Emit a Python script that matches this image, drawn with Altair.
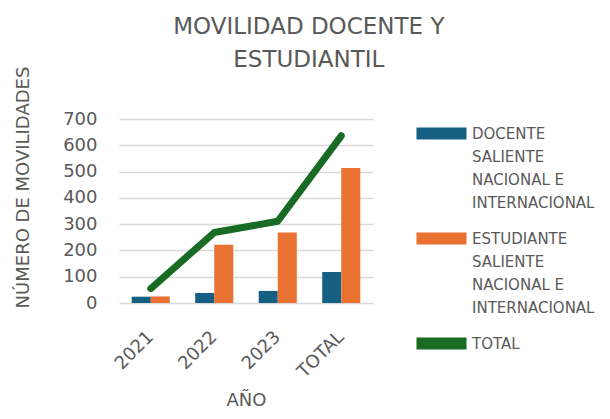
import altair as alt
import pandas as pd

categorias = ["2021", "2022", "2023", "TOTAL"]
docente = [24, 38, 46, 118]
estudiante = [25, 222, 268, 514]
total = [55, 268, 311, 636]

serie_doc = "DOCENTE|SALIENTE|NACIONAL E|INTERNACIONAL"
serie_est = "ESTUDIANTE|SALIENTE|NACIONAL E|INTERNACIONAL"
serie_tot = "TOTAL"
series = [serie_doc, serie_est, serie_tot]
colores = ["#156082", "#E97132", "#196B24"]

rows = []
for c, d, e in zip(categorias, docente, estudiante):
    rows.append({"cat": c, "serie": serie_doc, "valor": d})
    rows.append({"cat": c, "serie": serie_est, "valor": e})
df_bar = pd.DataFrame(rows)
df_line = pd.DataFrame({"cat": categorias, "serie": serie_tot, "valor": total})

FONT = "DejaVu Sans"
TXT = "#595959"

color = alt.Color(
    "serie:N",
    scale=alt.Scale(domain=series, range=colores),
    legend=alt.Legend(
        title=None,
        orient="right",
        offset=42,
        padding=0,
        symbolType="M-4.17,0.17H4.17V2.17H-4.17Z",
        symbolSize=144,
        symbolStrokeWidth=0,
        symbolOffset=19,
        labelExpr="split(datum.label, '|')",
        labelBaseline="top",
        labelFont=FONT,
        labelFontSize=15,
        labelColor=TXT,
        labelLimit=300,
        labelOffset=23,
        rowPadding=13,
    ),
)

x = alt.X(
    "cat:N",
    sort=categorias,
    scale=alt.Scale(paddingInner=0.4, paddingOuter=0.2),
    axis=alt.Axis(
        title="AÑO",
        labelAngle=-45,
        labelAlign="right",
        labelBaseline="middle",
        labelPadding=31,
        ticks=False,
        domain=False,
        titlePadding=11,
    ),
)

y = alt.Y(
    "valor:Q",
    scale=alt.Scale(domain=[0, 700]),
    axis=alt.Axis(
        title="NÚMERO DE MOVILIDADES",
        values=[0, 100, 200, 300, 400, 500, 600, 700],
        labelOverlap=False,
        ticks=False,
        domain=False,
        labelPadding=22,
        titlePadding=30,
        titleY=68,
        titleAlign="center",
    ),
)

bars = alt.Chart(df_bar).mark_bar().encode(
    x=x,
    xOffset=alt.XOffset("serie:N", sort=series[:2]),
    y=y,
    color=color,
)

line = alt.Chart(df_line).mark_line(strokeWidth=7, strokeCap="round", strokeJoin="round").encode(
    x=x,
    y=y,
    color=alt.Color("serie:N"),
)

chart = (
    alt.layer(bars, line)
    .properties(
        width=254,
        height=184,
        padding={"left": 111, "top": 111, "right": 229, "bottom": 108},
        autosize="none",
        title=alt.TitleParams(
            text=["MOVILIDAD DOCENTE Y", "ESTUDIANTIL"],
            anchor="middle",
            frame="bounds",
            font=FONT,
            fontSize=23,
            fontWeight="normal",
            color=TXT,
            lineHeight=33,
            offset=40,
            dx=4,
            dy=46,
        ),
    )
    .configure(
        view=alt.ViewConfig(stroke=None),
        axis=alt.AxisConfig(
            labelFont=FONT,
            labelFontSize=18,
            labelColor=TXT,
            titleFont=FONT,
            titleFontSize=18,
            titleFontWeight="normal",
            titleColor=TXT,
            gridColor="#d9d9d9",
            gridWidth=1.3,
        ),
        style={"guide-label": {"lineHeight": 23}},
    )
)

chart.save("out.html", embed_options={"renderer": "svg", "actions": False})
